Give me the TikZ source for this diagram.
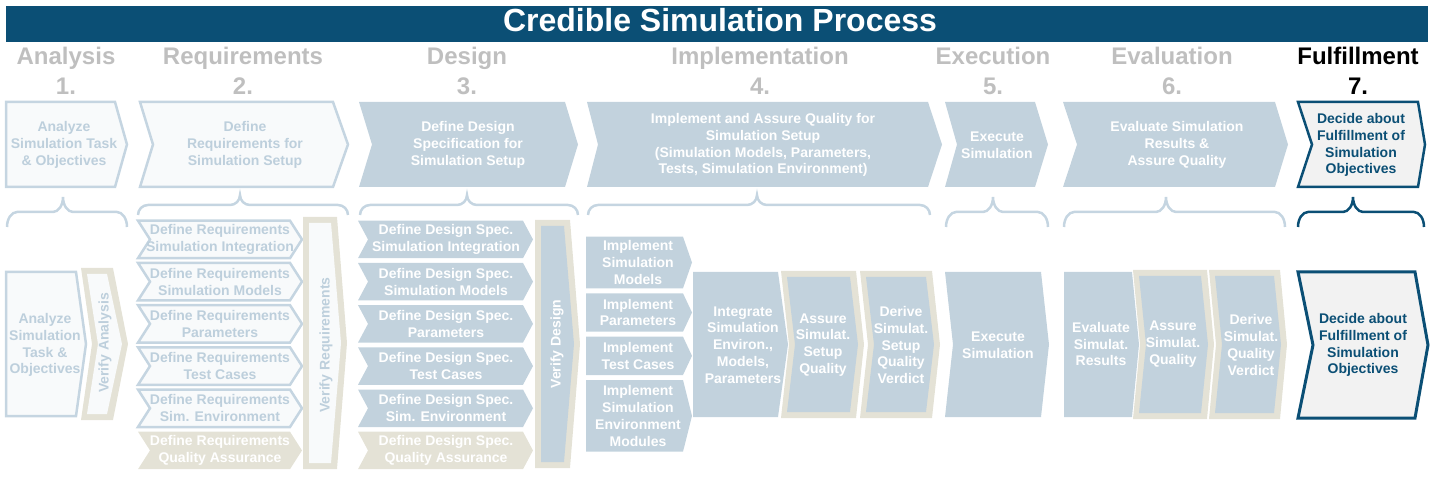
\documentclass[tikz,border=0pt]{standalone}
\usepackage{fontspec}
\setmainfont{Liberation Sans}
\definecolor{dblue}{HTML}{0B4F75}
\definecolor{lblue}{HTML}{C2D2DD}
\definecolor{lline}{HTML}{C5D5E1}
\definecolor{ltext}{HTML}{BDCFDC}
\definecolor{vlight}{HTML}{F8FAFB}
\definecolor{beige}{HTML}{E4E2D6}
\definecolor{hgray}{HTML}{BFBFBF}
\definecolor{fgray}{HTML}{F2F2F2}
% chevron: style, x1, y1, x2 (top right), y2, notch, tip
\newcommand\chv[7]{\path[#1] (#2,#3) -- (#4,#3) -- ({#4+#7},{(#3+#5)/2}) -- (#4,#5) -- (#2,#5) -- ({#2+#6},{(#3+#5)/2}) -- cycle;}
% beige-framed chevron: inner fill, x1, y1, x2, y2, notch, tip
\newcommand\bchv[7]{\chv{fill=beige}{#2}{#3}{#4}{#5}{#6}{#7}\chv{fill=#1}{#2+6}{#3+6}{#4-6}{#5-6}{#6}{#7}}
% brace: style, xl, xr, xt, yb, ym, yt
\newcommand\brc[7]{\draw[#1] (#2,#5) .. controls (#2,{#5-0.552*(#5-#6)}) and ({#2+4.48},#6) .. ({#2+10},#6) -- ({#4-10},#6) .. controls ({#4-4.48},#6) and (#4,{#7+0.552*(#6-#7)}) .. (#4,#7) .. controls (#4,{#7+0.552*(#6-#7)}) and ({#4+4.48},#6) .. ({#4+10},#6) -- ({#3-10},#6) .. controls ({#3-4.48},#6) and (#3,{#5-0.552*(#5-#6)}) .. (#3,#5);}
\tikzset{
  txt/.style={align=center, font=\fontsize{14}{16.8}\selectfont\bfseries, inner sep=0pt},
  wt/.style={txt, text=white},
  lt/.style={txt, text=ltext},
  dbt/.style={txt, text=dblue},
  head/.style={anchor=base, font=\fontsize{24}{24}\selectfont\bfseries, text=hgray, inner sep=0pt},
  lineo/.style={draw=lline, line width=2.5pt, fill=vlight, line join=miter},
  fillb/.style={fill=lblue},
  bracel/.style={draw=lline, line width=2.5pt},
  braced/.style={draw=dblue, line width=2.5pt},
}
\begin{document}
\begin{tikzpicture}[x=1pt,y=-1pt]
\useasboundingbox (0,0) rectangle (1435,478);
% title
\fill[dblue] (6,6) rectangle (1428,42);
\node[anchor=base, text=white, font=\fontsize{32}{32}\selectfont\bfseries, inner sep=0pt] (title) at (720,32) {Credible Simulation Process};
% headings
\node[head] (h1) at (66,65) {Analysis};
\node[head] (n1) at (66,95) {1.};
\node[head] (h2) at (243,65) {Requirements};
\node[head] (n2) at (243,95) {2.};
\node[head] (h3) at (467,65) {Design};
\node[head] (n3) at (467,95) {3.};
\node[head] (h4) at (760,65) {Implementation};
\node[head] (n4) at (760,95) {4.};
\node[head] (h5) at (993,65) {Execution};
\node[head] (n5) at (993,95) {5.};
\node[head] (h6) at (1172,65) {Evaluation};
\node[head] (n6) at (1172,95) {6.};
\node[head, text=black] (h7) at (1358,65) {Fulfillment};
\node[head, text=black] (n7) at (1358,95) {7.};
% top row chevrons
\chv{lineo}{6}{102}{115}{187}{0}{12}
\chv{lineo}{140}{102}{333}{187}{13}{15}
\chv{fillb}{359}{102}{565}{187}{13}{13}
\chv{fillb}{587}{102}{928}{187}{11}{14}
\chv{fillb}{945}{102}{1035}{187}{12}{13}
\chv{fillb}{1063}{102}{1275}{187}{14}{13}
\chv{draw=dblue, line width=2.5pt, fill=fgray}{1298}{102}{1418}{187}{14}{7}
\node[lt] (t1) at (64,145) {Analyze\\Simulation Task\\\& Objectives};
\node[lt] (t2) at (245,145) {Define\\Requirements for\\Simulation Setup};
\node[wt] (t3) at (468,145) {Define Design\\Specification for\\Simulation Setup};
\node[wt] (t4) at (763,145) {Implement and Assure Quality for\\Simulation Setup\\(Simulation Models, Parameters,\\Tests, Simulation Environment)};
\node[wt] (t5) at (997,145) {Execute\\Simulation};
\node[wt] (t6) at (1177,145) {Evaluate Simulation\\Results \&\\Assure Quality};
\node[dbt] (t7) at (1361,145) {Decide about\\Fulfillment of\\Simulation\\Objectives};
% braces
\brc{bracel}{7}{127}{63}{227}{212}{197}
\brc{bracel}{138}{348}{240}{215}{205}{195}
\brc{bracel}{360}{578}{467}{215}{205}{195}
\brc{bracel}{588}{930}{757}{215}{205}{195}
\brc{bracel}{946}{1048}{993}{227}{212}{197}
\brc{bracel}{1064}{1285}{1166}{227}{212}{197}
\brc{braced}{1298}{1424}{1353}{227}{212}{197}
% ---- lower row: analysis
\chv{lineo}{6}{272}{76}{416}{0}{10}
\node[lt] (a1) at (45,345) {Analyze\\Simulation\\Task \&\\Objectives};
\bchv{vlight}{81}{268}{113}{420}{11}{15}
\node[lt, rotate=90] (a2) at (105,343) {Verify Analysis};
% ---- requirements
\foreach \i/\t in {0/Simulation Integration,1/Simulation Models,2/Parameters,3/Test Cases,4/Sim. Environment}{
  \chv{lineo}{138}{220.7+42.2*\i}{290}{258.2+42.2*\i}{12}{12}
  \node[lt] (r\i) at (220,239.45+42.2*\i) {Define Requirements\\\t};
}
\chv{fill=beige}{138}{431.7}{290}{469.2}{12}{12}
\node[wt] (r5) at (220,450.45) {Define Requirements\\Quality Assurance};
\bchv{vlight}{303}{217}{337}{469}{0}{10}
\node[lt, rotate=90] (rv) at (326,345) {Verify Requirements};
% ---- design
\foreach \i/\t in {0/Simulation Integration,1/Simulation Models,2/Parameters,3/Test Cases,4/Sim. Environment}{
  \chv{fillb}{358}{220.7+42.2*\i}{523}{258.2+42.2*\i}{10}{10}
  \node[wt] (d\i) at (446,239.45+42.2*\i) {Define Design Spec.\\\t};
}
\chv{fill=beige}{358}{431.7}{523}{469.2}{10}{10}
\node[wt] (d5) at (446,450.45) {Define Design Spec.\\Quality Assurance};
\bchv{lblue}{535}{220}{570}{468}{0}{10}
\node[wt, rotate=90] (dv) at (557,344) {Verify Design};
% ---- implementation
\chv{fillb}{586}{236.7}{683}{288.3}{0}{9}
\node[wt] (i1) at (638,262.5) {Implement\\Simulation\\Models};
\chv{fillb}{586}{293.3}{683}{331.7}{0}{9}
\node[wt] (i2) at (638,312.5) {Implement\\Parameters};
\chv{fillb}{586}{336.7}{683}{375}{0}{9}
\node[wt] (i3) at (638,356) {Implement\\Test Cases};
\chv{fillb}{586}{380}{683}{451.7}{0}{9}
\node[wt] (i4) at (638,416) {Implement\\Simulation\\Environment\\Modules};
\chv{fillb}{693}{272}{778}{417}{0}{10}
\node[wt] (i5) at (743,345) {Integrate\\Simulation\\Environ.,\\Models,\\Parameters};
\bchv{lblue}{781}{271}{856}{418}{8}{8}
\node[wt] (i6) at (823,345) {Assure\\Simulat.\\Setup\\Quality};
\bchv{lblue}{860}{271}{932}{418}{8}{8}
\node[wt] (i7) at (901,345) {Derive\\Simulat.\\Setup\\Quality\\Verdict};
% ---- execution
\chv{fillb}{945}{272}{1041}{417}{8}{8}
\node[wt] (e1) at (998,345) {Execute\\Simulation};
% ---- evaluation
\chv{fillb}{1064}{272}{1132}{417}{0}{7}
\node[wt] (v1) at (1101,344) {Evaluate\\Simulat.\\Results};
\bchv{lblue}{1133}{270}{1207}{419}{7}{7}
\node[wt] (v2) at (1173,344) {Assure\\Simulat.\\Quality};
\bchv{lblue}{1209}{270}{1280}{419}{7}{7}
\node[wt] (v3) at (1251,345) {Derive\\Simulat.\\Quality\\Verdict};
% ---- fulfillment
\chv{draw=dblue, line width=3pt, fill=fgray}{1298}{272}{1415}{418}{15}{13}
\node[dbt] (f1) at (1363,345) {Decide about\\Fulfillment of\\Simulation\\Objectives};
\end{tikzpicture}
\end{document}
